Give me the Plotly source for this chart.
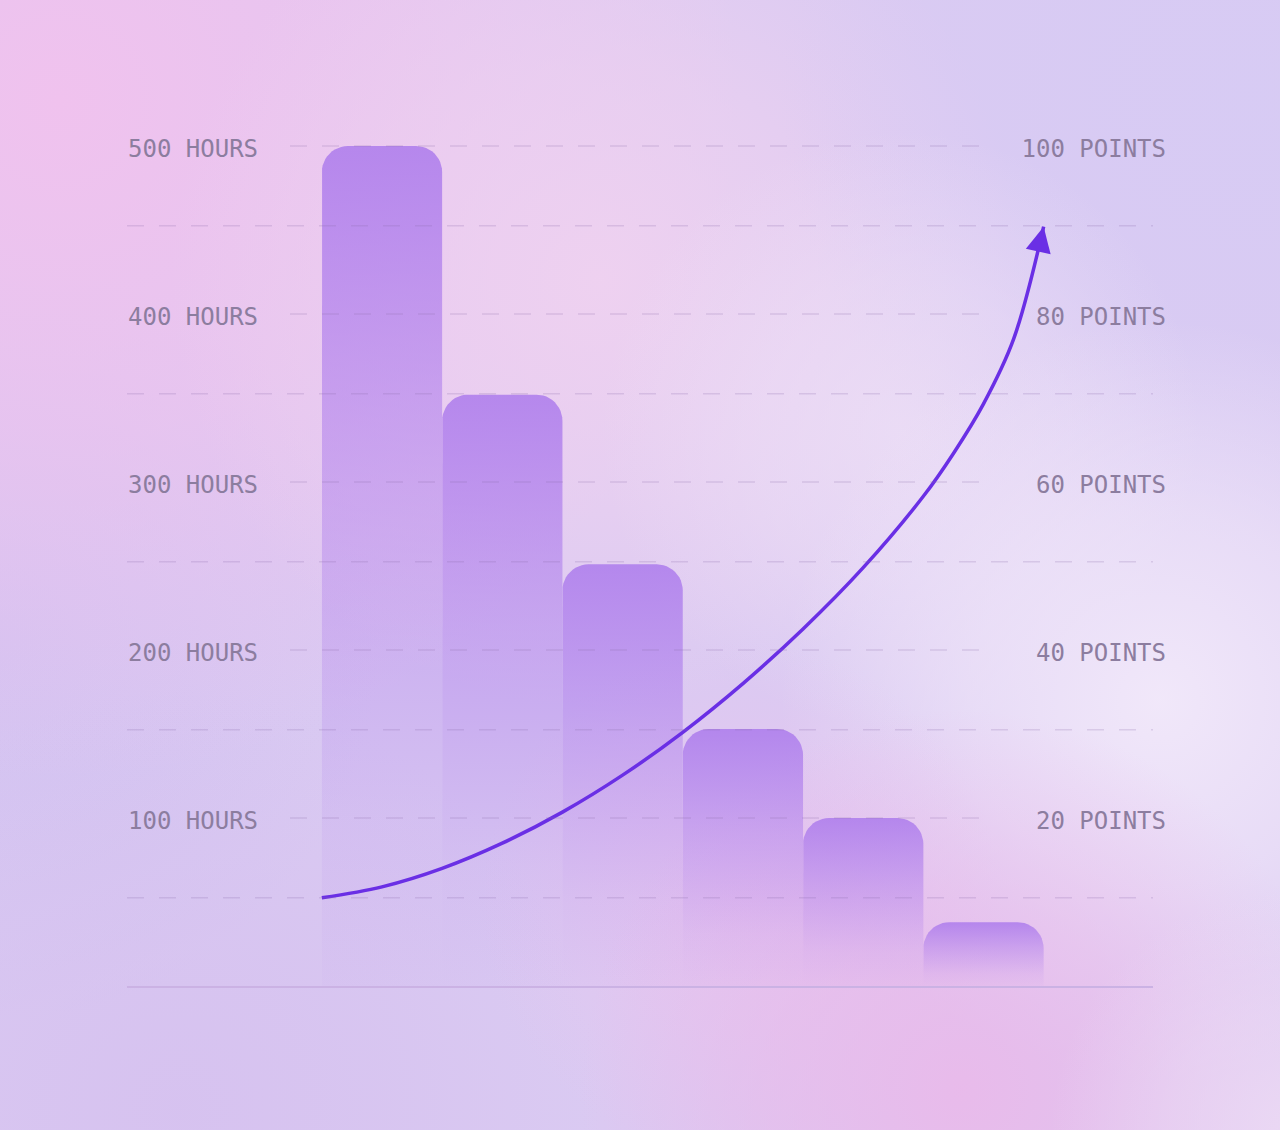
import base64
import math

import plotly.graph_objects as go

# bars: hours spent per step (left axis)
STEPS = [0, 1, 2, 3, 4, 5]
HOURS = [500, 352, 251, 153, 100, 38]

# rising curve: points (right axis)
CURVE_X = [-0.5, 0, 0.5, 1, 1.5, 2, 2.5, 3, 3.5, 4, 4.5, 4.75, 5, 5.25, 5.5]
CURVE_POINTS = [10.5, 11.8, 14.0, 17.0, 20.7, 25.1, 30.2, 36.0, 42.5, 49.8,
                58.3, 63.4, 69.3, 77.0, 90.4]
# point just below the arrow tip, sets the arrowhead direction
ARROW_TAIL = (5.468, 88.3)

HOUR_TICKS = [100, 200, 300, 400, 500]
HOUR_LABELS = ["100 HOURS", "200 HOURS", "300 HOURS", "400 HOURS", "500 HOURS"]
POINT_TICKS = [20, 40, 60, 80, 100]
POINT_LABELS = ["20 POINTS", "40 POINTS", "60 POINTS", "80 POINTS", "100 POINTS"]
HALF_STEPS = [52.5, 152.5, 252.5, 352.5, 452.5]

W, H = 1280, 1130
M = {"l": 127, "r": 127, "t": 100, "b": 144}
PLOT_W = W - M["l"] - M["r"]
PLOT_H = H - M["t"] - M["b"]
PX_PER_HOUR = 1.68
HOUR_MAX = PLOT_H / PX_PER_HOUR
BAR_PX = 120.3
CORNER_PX = 26

FONT = "DejaVu Sans Mono"
LABEL_COLOR = "#8c7d9f"
GRID_COLOR = "rgba(140, 110, 175, 0.22)"
BAR_RGB = "170, 120, 236"
LINE_COLOR = "#6a2fe5"


def background_svg():
    blobs = [
        (0, 640, 380, "#d2c2f1", 0.9),
        (60, 100, 680, "#f0c2ee", 1.0),
        (600, 280, 430, "#f0d2f0", 0.9),
        (1250, 90, 470, "#d7cbf4", 0.95),
        (900, 430, 300, "#efe2f7", 0.7),
        (1160, 700, 380, "#f2e9fa", 0.95),
        (740, 900, 260, "#ebc3ee", 0.6),
        (960, 1090, 380, "#eab9ea", 0.9),
        (1290, 1130, 240, "#eedcf5", 0.8),
        (180, 1110, 420, "#d4bdee", 0.6),
    ]
    defs, rects = [], []
    for i, (cx, cy, r, col, op) in enumerate(blobs):
        defs.append(
            f'<radialGradient id="g{i}" cx="{cx}" cy="{cy}" r="{r}" gradientUnits="userSpaceOnUse">'
            f'<stop offset="0" stop-color="{col}" stop-opacity="{op}"/>'
            f'<stop offset="0.5" stop-color="{col}" stop-opacity="{op * 0.6:.2f}"/>'
            f'<stop offset="1" stop-color="{col}" stop-opacity="0"/></radialGradient>'
        )
        rects.append(f'<rect width="{W}" height="{H}" fill="url(#g{i})"/>')
    svg = (
        f'<svg xmlns="http://www.w3.org/2000/svg" width="{W}" height="{H}" '
        f'viewBox="0 0 {W} {H}" preserveAspectRatio="none"><defs>{"".join(defs)}</defs>'
        f'<rect width="{W}" height="{H}" fill="#dacaf2"/>{"".join(rects)}</svg>'
    )
    return "data:image/svg+xml;base64," + base64.b64encode(svg.encode()).decode()


def rounded_bar(center, value):
    # outline of a bar with rounded top corners, in axis units
    rx = CORNER_PX / BAR_PX
    ry = CORNER_PX / PX_PER_HOUR
    left, right = center - 0.5, center + 0.5
    xs, ys = [left, left], [0, value - ry]
    for i in range(1, 13):
        a = math.pi / 2 * i / 12
        xs.append(left + rx * (1 - math.cos(a)))
        ys.append(value - ry + ry * math.sin(a))
    for i in range(0, 13):
        a = math.pi / 2 * i / 12
        xs.append(right - rx + rx * math.sin(a))
        ys.append(value - ry + ry * math.cos(a))
    xs += [right, left]
    ys += [0, 0]
    return xs, ys


fig = go.Figure()

for step, hours in zip(STEPS, HOURS):
    bx, by = rounded_bar(step, hours)
    fig.add_trace(
        go.Scatter(
            x=bx,
            y=by,
            mode="lines",
            fill="toself",
            line={"width": 0},
            fillgradient={
                "type": "vertical",
                "colorscale": [
                    [0.0, f"rgba({BAR_RGB}, 0.03)"],
                    [0.2, f"rgba({BAR_RGB}, 0.12)"],
                    [0.6, f"rgba({BAR_RGB}, 0.45)"],
                    [1.0, f"rgba({BAR_RGB}, 0.82)"],
                ],
            },
            showlegend=False,
            hoverinfo="skip",
        )
    )

fig.add_trace(
    go.Scatter(
        x=CURVE_X,
        y=CURVE_POINTS,
        yaxis="y2",
        mode="lines",
        line={"color": LINE_COLOR, "width": 3.5, "shape": "spline", "smoothing": 1},
        showlegend=False,
        hoverinfo="skip",
    )
)

fig.add_annotation(
    x=CURVE_X[-1], y=CURVE_POINTS[-1], xref="x", yref="y2",
    ax=ARROW_TAIL[0], ay=ARROW_TAIL[1], axref="x", ayref="y2",
    text="", showarrow=True,
    arrowhead=2, arrowsize=1.45, arrowwidth=3.5, arrowcolor=LINE_COLOR,
)

short_x0 = (290 - M["l"]) / PLOT_W
short_x1 = (990 - M["l"]) / PLOT_W
shapes = []
for v in HALF_STEPS:
    shapes.append(dict(type="line", xref="paper", x0=0, x1=1, yref="y", y0=v, y1=v,
                       line={"color": GRID_COLOR, "width": 1.5, "dash": "17px,15px"},
                       layer="above"))
for v in HOUR_TICKS:
    shapes.append(dict(type="line", xref="paper", x0=short_x0, x1=short_x1, yref="y", y0=v, y1=v,
                       line={"color": GRID_COLOR, "width": 1.5, "dash": "17px,15px"},
                       layer="above"))

axis_common = dict(
    showgrid=False,
    zeroline=False,
    ticks="",
    showline=False,
    ticklabelposition="inside",
    ticklabelshift=3,
    tickfont={"family": FONT, "size": 24, "color": LABEL_COLOR},
)

fig.update_layout(
    width=W,
    height=H,
    margin=M,
    paper_bgcolor="#dacaf2",
    plot_bgcolor="rgba(0,0,0,0)",
    hovermode=False,
    shapes=shapes,
    images=[dict(
        source=background_svg(),
        xref="paper", yref="paper",
        x=-M["l"] / PLOT_W, y=1 + M["t"] / PLOT_H,
        sizex=W / PLOT_W, sizey=H / PLOT_H,
        xanchor="left", yanchor="top",
        sizing="stretch", layer="below",
    )],
    xaxis=dict(
        range=[(M["l"] - 382) / BAR_PX, (W - M["r"] - 382) / BAR_PX],
        showticklabels=False,
        showgrid=False,
        zeroline=False,
        ticks="",
        showline=True,
        linecolor="#cbb2e4",
        linewidth=1.5,
    ),
    yaxis=dict(
        range=[0, HOUR_MAX],
        tickvals=HOUR_TICKS,
        ticktext=HOUR_LABELS,
        ticklabelstandoff=-2,
        **axis_common,
    ),
    yaxis2=dict(
        range=[0, HOUR_MAX / 5],
        tickvals=POINT_TICKS,
        ticktext=POINT_LABELS,
        overlaying="y",
        side="right",
        ticklabelstandoff=-16,
        **axis_common,
    ),
)

fig.write_html(
    "out.html",
    config={"displayModeBar": False},
    post_script="document.body.style.margin='0';document.body.style.overflow='hidden';",
)
